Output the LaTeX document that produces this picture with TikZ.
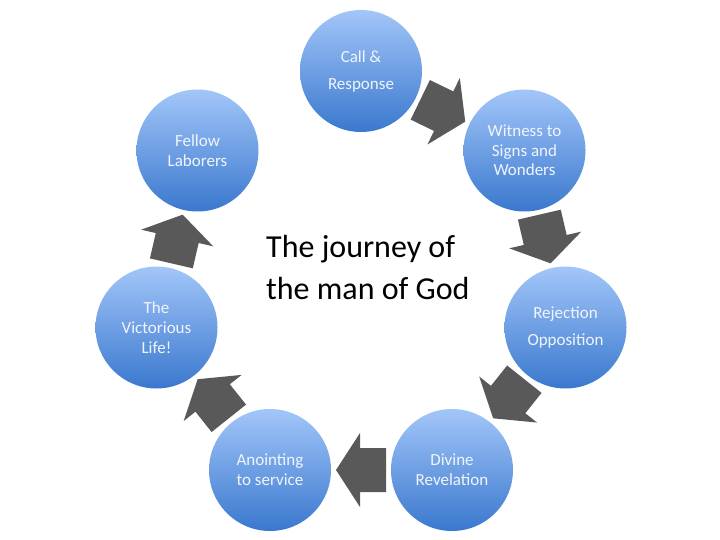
\documentclass[tikz,border=0pt]{standalone}
\usepackage{fontspec}
\setmainfont{Carlito}
\usetikzlibrary{calc}
\definecolor{ctop}{RGB}{162,198,249}
\definecolor{cmid}{RGB}{122,166,236}
\definecolor{cbot}{RGB}{58,120,206}
\definecolor{arrowgray}{RGB}{89,89,89}
\definecolor{ctext}{RGB}{240,245,252}
\tikzset{
  stage/.style={circle, minimum size=122pt, inner sep=0pt,
    top color=ctop, middle color=cmid, bottom color=cbot, draw=none,
    text=ctext, align=center, font=\fontsize{17}{19.7}\selectfont},
  blockarrow/.pic={\fill[arrowgray] (-25,-22) -- (1,-22) -- (1,-37) -- (25,0) -- (1,37) -- (1,22) -- (-25,22) -- cycle;},
}
\begin{document}
\begin{tikzpicture}[x=1pt,y=-1pt]
\useasboundingbox (0,0) rectangle (720,540);
\node[stage] (s1) at (361,71) {Call \&\\[7.3pt]Response};
\node[stage] (s2) at (524.5,150.5) {Witness to\\Signs and\\Wonders};
\node[stage] (s3) at (565.5,327.5) {Rejection\\[7.3pt]Opposition};
\node[stage] (s4) at (452,470) {Divine\\Revelation};
\node[stage] (s5) at (270,470) {Anointing\\to service};
\node[stage] (s6) at (156.5,327.5) {The\\Victorious\\Life!};
\node[stage] (s7) at (197.5,150.5) {Fellow\\Laborers};
\foreach \a/\b in {s1/s2,s2/s3,s3/s4,s4/s5,s5/s6,s6/s7}
  \path (\a.center) -- pic[midway, sloped, allow upside down]{blockarrow} (\b.center);
\node[anchor=north west, align=left, font=\fontsize{32}{42}\selectfont, inner sep=0pt] (title) at (266,235) {The journey of\\the man of God};
\end{tikzpicture}
\end{document}
